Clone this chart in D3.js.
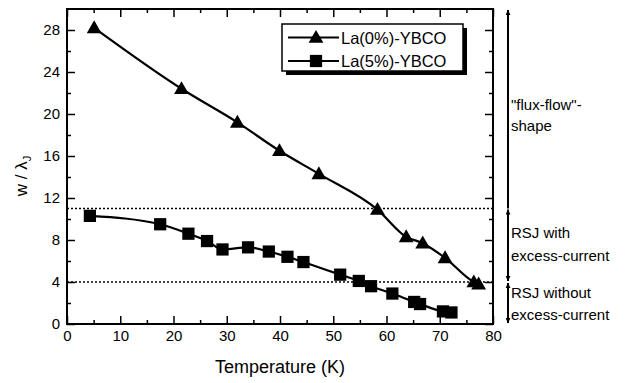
<!DOCTYPE html>
<html>
<head>
<meta charset="utf-8">
<script src="https://cdn.jsdelivr.net/npm/d3@7"></script>
<style>
  body { margin: 0; background: #fff; }
  text { font-family: "Liberation Sans", Arial, sans-serif; fill: #000; }
</style>
</head>
<body>
<div id="chart"></div>
<script>
// La(0%)-YBCO, triangles
const tempA = [5.1, 21.5, 32.0, 39.9, 47.3, 58.3, 63.7, 66.8, 71.0, 76.4, 77.3];
const wA = [28.2, 22.4, 19.2, 16.5, 14.3, 10.9, 8.3, 7.7, 6.3, 4.0, 3.8];
// La(5%)-YBCO, squares
const tempB = [4.3, 17.5, 22.8, 26.3, 29.2, 34.0, 37.9, 41.4, 44.4, 51.3, 54.8, 57.1, 61.1, 65.2, 66.3, 70.6, 72.2];
const wB = [10.3, 9.5, 8.6, 7.9, 7.1, 7.3, 6.9, 6.4, 5.9, 4.7, 4.1, 3.6, 2.9, 2.1, 1.9, 1.2, 1.1];

const seriesNames = ["La(0%)-YBCO", "La(5%)-YBCO"];
const xTicks = [0, 10, 20, 30, 40, 50, 60, 70, 80];
const yTicks = [0, 4, 8, 12, 16, 20, 24, 28];
const regimeLimits = [11, 4];   // dotted boundaries

const margin = { top: 9, right: 137, bottom: 59, left: 67 },
  width = 630 - margin.left - margin.right,
  height = 383 - margin.top - margin.bottom;

const svg = d3.select("#chart").append("svg")
  .attr("width", 630).attr("height", 383);

const defs = svg.append("defs");
["up", "down"].forEach((dir) => {
  defs.append("marker")
    .attr("id", "arr-" + dir)
    .attr("viewBox", "0 0 10 10")
    .attr("refX", 5).attr("refY", dir === "up" ? 0 : 10)
    .attr("markerWidth", 5).attr("markerHeight", 8)
    .attr("markerUnits", "userSpaceOnUse")
    .attr("orient", "0")
    .append("path")
    .attr("d", dir === "up" ? "M0,10 L5,0 L10,10 Z" : "M0,0 L5,10 L10,0 Z")
    .attr("fill", "#000");
});

const g = svg.append("g").attr("transform", `translate(${margin.left},${margin.top})`);

const x = d3.scaleLinear().domain([0, 80]).range([0, width]);
const y = d3.scaleLinear().domain([0, 30]).range([height, 0]);

// dotted regime lines
g.selectAll(".limit").data(regimeLimits).join("line")
  .attr("x1", 0).attr("x2", width)
  .attr("y1", (d) => y(d)).attr("y2", (d) => y(d))
  .attr("stroke", "#000").attr("stroke-width", 1.3)
  .attr("stroke-dasharray", "2,2");

// axes with inward ticks
function styleAxis(sel) {
  sel.select(".domain").remove();
  sel.selectAll("line").attr("stroke", "#000").attr("stroke-width", 1.5);
  sel.selectAll("text").style("font-size", "15px");
}
const minorX = d3.range(5, 80, 10);
const minorY = d3.range(2, 30, 4);

g.append("g").attr("transform", `translate(0,${height})`)
  .call(d3.axisBottom(x).tickValues(xTicks).tickSize(-8).tickPadding(6))
  .call(styleAxis);
g.append("g").attr("transform", `translate(0,${height})`)
  .call(d3.axisBottom(x).tickValues(minorX).tickSize(-4).tickFormat(""))
  .call(styleAxis);
g.append("g")
  .call(d3.axisTop(x).tickValues(xTicks).tickSize(-8).tickFormat(""))
  .call(styleAxis);
g.append("g")
  .call(d3.axisTop(x).tickValues(minorX).tickSize(-4).tickFormat(""))
  .call(styleAxis);

g.append("g")
  .call(d3.axisLeft(y).tickValues(yTicks).tickSize(-8).tickPadding(7))
  .call(styleAxis);
g.append("g")
  .call(d3.axisLeft(y).tickValues(minorY).tickSize(-4).tickFormat(""))
  .call(styleAxis);
g.append("g").attr("transform", `translate(${width},0)`)
  .call(d3.axisRight(y).tickValues(yTicks).tickSize(-8).tickFormat(""))
  .call(styleAxis);
g.append("g").attr("transform", `translate(${width},0)`)
  .call(d3.axisRight(y).tickValues(minorY).tickSize(-4).tickFormat(""))
  .call(styleAxis);

// frame
g.append("rect").attr("width", width).attr("height", height)
  .attr("fill", "none").attr("stroke", "#000").attr("stroke-width", 2);

// series
const line = d3.line().curve(d3.curveMonotoneX);
const ptsA = tempA.map((t, i) => [x(t), y(wA[i])]);
const ptsB = tempB.map((t, i) => [x(t), y(wB[i])]);

g.append("path").attr("d", line(ptsA)).attr("fill", "none")
  .attr("stroke", "#000").attr("stroke-width", 2.2);
g.append("path").attr("d", line(ptsB)).attr("fill", "none")
  .attr("stroke", "#000").attr("stroke-width", 2.2);

const triangle = d3.symbol().type(d3.symbolTriangle).size(95);
const square = d3.symbol().type(d3.symbolSquare).size(150);

g.selectAll(".tri").data(ptsA).join("path")
  .attr("d", triangle)
  .attr("transform", (d) => `translate(${d[0]},${d[1] + 1})`)
  .attr("fill", "#000");
g.selectAll(".sq").data(ptsB).join("path")
  .attr("d", square)
  .attr("transform", (d) => `translate(${d[0]},${d[1]})`)
  .attr("fill", "#000");

// axis titles
svg.append("text")
  .attr("x", margin.left + width / 2).attr("y", 373)
  .attr("text-anchor", "middle").style("font-size", "18px")
  .text("Temperature (K)");

const yl = svg.append("text")
  .attr("transform", "translate(27,176) rotate(-90)")
  .attr("text-anchor", "middle").style("font-size", "17px");
yl.append("tspan").text("w / λ");
yl.append("tspan").attr("dy", 4).style("font-size", "11px").text("J");

// legend with drop shadow
const lg = svg.append("g").attr("transform", "translate(282,24)");
lg.append("rect").attr("x", 4).attr("y", 4).attr("width", 181).attr("height", 47).attr("fill", "#000");
lg.append("rect").attr("width", 181).attr("height", 47)
  .attr("fill", "#fff").attr("stroke", "#000").attr("stroke-width", 1.5);
const legendSym = [triangle, square];
seriesNames.forEach((name, i) => {
  const yy = 13.5 + i * 23.5;
  lg.append("line").attr("x1", 6).attr("x2", 57).attr("y1", yy).attr("y2", yy)
    .attr("stroke", "#000").attr("stroke-width", 2);
  lg.append("path").attr("d", legendSym[i])
    .attr("transform", `translate(34,${yy + (i === 0 ? 1 : 0)})`).attr("fill", "#000");
  lg.append("text").attr("x", 59).attr("y", yy + 6)
    .style("font-size", "16.5px").text(name);
});

// regime annotations on the right
const ax = margin.left + width + 15;
const regimes = [
  { from: 11, to: 30, lines: ["\"flux-flow\"-", "shape"], ty: [110, 131], down: false },
  { from: 4, to: 11, lines: ["RSJ with", "excess-current"], ty: [238, 261], down: true },
  { from: 0, to: 4, lines: ["RSJ without", "excess-current"], ty: [298, 320], down: true }
];
regimes.forEach((r) => {
  svg.append("line")
    .attr("x1", ax).attr("x2", ax)
    .attr("y1", margin.top + y(r.to) + 1).attr("y2", margin.top + y(r.from) - (r.down ? 1 : 0))
    .attr("stroke", "#000").attr("stroke-width", 2)
    .attr("marker-start", "url(#arr-up)")
    .attr("marker-end", r.down ? "url(#arr-down)" : null);
  r.lines.forEach((t, j) => {
    svg.append("text").attr("x", ax + 3).attr("y", r.ty[j])
      .style("font-size", "15px").text(t);
  });
});
</script>
</body>
</html>
